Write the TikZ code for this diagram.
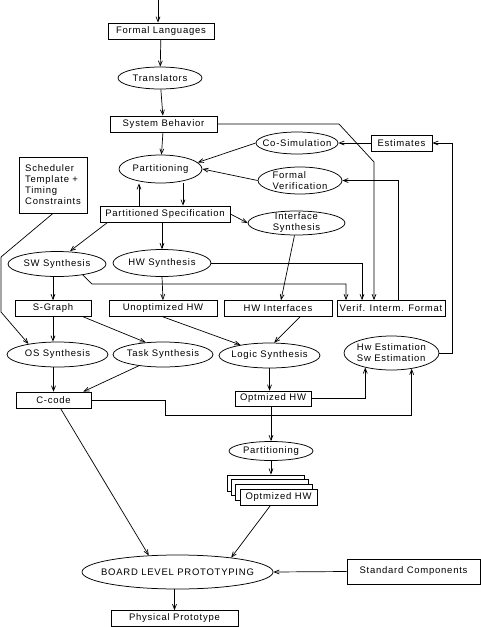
\documentclass[tikz,border=0pt]{standalone}
\usepackage{fontspec}
\setmainfont{Liberation Sans}[LetterSpace=8]
\usetikzlibrary{arrows.meta,shapes.geometric,calc}

\begin{document}
\begin{tikzpicture}[x=1pt,y=-1pt,
  font=\fontsize{9.5}{11}\selectfont, line width=0.75pt,
  box/.style={draw,inner sep=1pt,minimum height=16pt},
  oval/.style={ellipse,draw,inner xsep=-40pt,inner ysep=-20pt},
  arr/.style={-{Straight Barb[length=5pt,width=4pt]},line width=0.7pt}]
\useasboundingbox (0,0) rectangle (481,627);
% upper part: specification and partitioning
\coordinate (src) at (158,0);
\node[box,minimum width=106pt] (fl) at (161,31) {Formal Languages};
\node[oval,minimum width=84pt,minimum height=22pt] (tr) at (160,78) {Translators};
\node[box,minimum width=107pt] (sb) at (163.5,124) {System Behavior};
\node[oval,minimum width=82pt,minimum height=22pt] (cosim) at (297,143) {Co-Simulation};
\node[box,minimum width=61pt] (est) at (401.5,143) {Estimates};
\node[oval,minimum width=83pt,minimum height=28pt] (part) at (160.5,169) {Partitioning};
\node[oval,minimum width=84pt,minimum height=27pt,align=left] (fv) at (300,180.5) {Formal\\Verification};
\node[box,minimum width=68pt,minimum height=56pt,align=left] (sched) at (53,185) {Scheduler\\Template +\\Timing\\Constraints};
\node[box,minimum width=130pt] (ps) at (165,214) {Partitioned Specification};
\node[oval,minimum width=97pt,minimum height=24pt,align=center] (ifs) at (296.5,223) {Interface\\Synthesis};
\node[oval,minimum width=98pt,minimum height=25pt] (sw) at (57,264) {SW Synthesis};
\node[oval,minimum width=98pt,minimum height=27pt] (hw) at (162,263) {HW Synthesis};
% synthesis results
\node[box,minimum width=76pt] (sg) at (53,308.5) {S-Graph};
\node[box,minimum width=108pt] (uhw) at (163,308.5) {Unoptimized HW};
\node[box,minimum width=108pt] (hwi) at (278,308.5) {HW Interfaces};
\node[box,minimum width=108pt] (vif) at (391,308.5) {Verif. Interm. Format};
\node[oval,minimum width=101pt,minimum height=25pt] (os) at (57.5,354.5) {OS Synthesis};
\node[oval,minimum width=100pt,minimum height=25pt] (task) at (163,354.5) {Task Synthesis};
\node[oval,minimum width=101pt,minimum height=25pt] (logic) at (269.5,355.5) {Logic Synthesis};
\node[oval,minimum width=95pt,minimum height=34pt,align=left] (est2) at (391.5,353) {Hw Estimation\\Sw Estimation};
\node[box,minimum width=75pt] (cc) at (53.5,400) {C-code};
\node[box,minimum width=76pt,minimum height=15pt] (ohw) at (273,398.5) {Optmized HW};
% prototyping
\node[oval,minimum width=84pt,minimum height=19pt] (part2) at (271,451) {Partitioning};
\foreach \k in {3,2,1}
  \node[box,fill=white,minimum width=77pt] (stack\k) at (278.5-4.3*\k,497-4.7*\k) {};
\node[box,fill=white,minimum width=77pt] (stack0) at (278.5,497) {Optmized HW};
\node[oval,minimum width=191pt,minimum height=34pt] (blp) at (177.5,572) {BOARD LEVEL PROTOTYPING};
\node[box,minimum width=133pt,minimum height=25pt] (std) at (413.5,571.5) {Standard Components};
\node[box,minimum width=127pt] (pp) at (174.5,618.5) {Physical Prototype};
% bends
\coordinate (sbk1) at (339,124); \coordinate (sbk2) at (374,162);
\coordinate (fvk) at (398,180.5); \coordinate (estk) at (452,143);
\coordinate (swk) at (92,284);
\coordinate (schk1) at (1,257); \coordinate (schk2) at (1,312);
\coordinate (cck) at (165,415);
% connectors
\draw[arr] (src) -- (src |- fl.north); \draw[arr] (fl) -- (tr); \draw[arr] (tr) -- (sb); \draw[arr] (sb) -- (part);
\draw[arr] (sb.east) -- (sbk1) -- (sbk2) -- (sbk2 |- vif.north);
\draw[arr] (est.west) -- (cosim.east); \draw[arr] (cosim.west) -- (part.10); \draw[arr] (fv.west) -- (part.east);
\draw[arr] (vif.north -| fvk) -- (fvk) -- (fv.east);
\draw[arr] (est2.east) -| (estk) -- (est.east);
\draw[arr] ([xshift=-26pt]ps.north) -- ([xshift=-21.5pt]part.south);
\draw[arr] ([xshift=22.5pt]part.south) -- ([xshift=18pt]ps.north);
\draw[arr] (ps.east) -- (ifs.west); \draw[arr] ([xshift=8pt]ps.south west) -- ([xshift=13pt]sw.north);
\draw[arr] (ps.south -| hw.north) -- (hw.north);
\draw[arr] (hw.east) -| ([xshift=-29pt]vif.north);
\draw[arr] (sw.-23) -- (swk) -| ([xshift=-45pt]vif.north);
\draw[arr] ([xshift=-2pt]ifs.south) -- ([xshift=3pt]hwi.north);
\draw[arr] (hw.south) -- (uhw.north); \draw[arr] (sw.south -| sg.north) -- (sg.north);
\draw[arr] (sched.south) -- (schk1) -- (schk2) -- (os.160);
\draw[arr] (sg.south) -- (sg.south |- os.north); \draw[arr] ([xshift=-8pt]sg.south east) -- (task.145);
\draw[arr] (uhw.south) -- (logic.160); \draw[arr] ([xshift=22pt]hwi.south) -- (logic.70);
\draw[arr] (os.south -| cc.north) -- (cc.north); \draw[arr] (task.205) -- ([xshift=-8pt]cc.north east);
\draw[arr] (logic.south) -- (logic.south |- ohw.north);
\draw[arr] (ohw.east) -| (est2.209);
\draw[arr] (cc.east) -| (cck) -| (est2.-38);
\draw[arr] (ohw.south -| part2.north) -- (part2.north); \draw[arr] (part2.south) -- (part2.south |- stack3.north);
\draw[arr] ([xshift=7pt]cc.south) -- (blp.150); \draw[arr] ([xshift=-8pt]stack0.south) -- (blp.15);
\draw[arr] (std.west) -- (blp.east); \draw[arr] (pp.north |- blp.south) -- (pp.north);
\end{tikzpicture}
\end{document}
